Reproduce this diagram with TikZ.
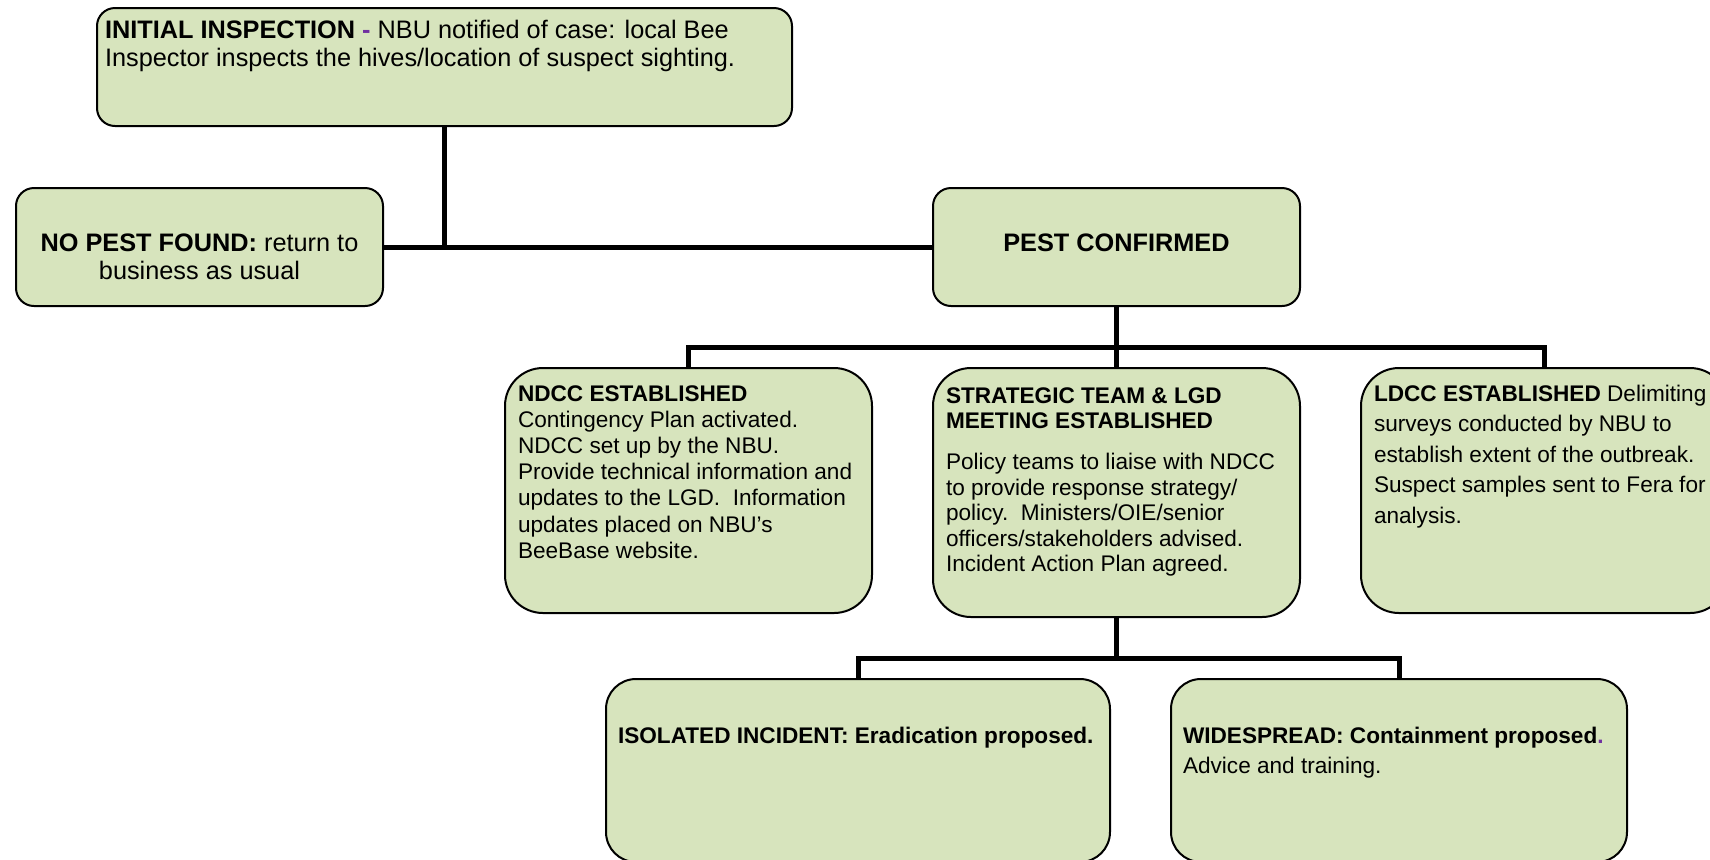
\documentclass[tikz,border=0pt]{standalone}
\usepackage{fontspec}
\setmainfont{Liberation Sans}
\usetikzlibrary{positioning}

\definecolor{stagegreen}{RGB}{215,228,189}
\definecolor{notepurple}{RGB}{112,48,160}

% width, height, space above first line, text
\newcommand{\stagetext}[4]{\parbox[c][#2][t]{#1}{\raggedright\vspace*{#3}\strut#4}}

\tikzset{
	stage/.style={draw=black, line width=1pt, fill=stagegreen, anchor=north west, outer sep=0pt,
		inner ysep=0pt, inner xsep=6.5pt, rounded corners=19pt, leading=13.1pt},
	leading/.style={font=\fontsize{11.3pt}{#1}\selectfont},
	small stage/.style={stage, inner xsep=4pt, rounded corners=9pt, font=\fontsize{12.65pt}{14pt}\selectfont},
	low stage/.style={stage, inner xsep=6pt, rounded corners=15pt},
	link/.style={line width=2.5pt}
}

\begin{document}
\begin{tikzpicture}[x=0.5pt, y=-0.5pt]
	\useasboundingbox (0,0) rectangle (1710,859);
	\clip (0,0) rectangle (1710,859);

	% top row
	\node [small stage] (init) at (97,8) {\stagetext{339.5pt}{59pt}{5.4pt}{\textbf{INITIAL INSPECTION} \textbf{\color{notepurple}-} NBU notified of case: local Bee\\Inspector inspects the hives/location of suspect sighting.}};
	\node [small stage] (nopest) at (16,188) {\stagetext{175.5pt}{59pt}{21.7pt}{\centering\textbf{NO PEST FOUND:} return to\\business as usual}};
	\node [small stage] (pest) at (933,188) {\stagetext{175.5pt}{59pt}{21.7pt}{\centering\textbf{PEST CONFIRMED}}};

	% middle row
	\node [stage] (ndcc) at (505,368) {\stagetext{170.5pt}{122.5pt}{7.35pt}{\textbf{NDCC ESTABLISHED}\\Contingency Plan activated.\\NDCC set up by the NBU.\\Provide~technical~information~and\\updates to the LGD.\ \ Information\\updates placed on NBU’s\\BeeBase website.}};
	\node [stage, leading=12.75pt, right=30.5pt of ndcc.north east, anchor=north west] (strat) {\stagetext{170.5pt}{124.5pt}{8.6pt}{\textbf{STRATEGIC TEAM \& LGD}\\\textbf{MEETING ESTABLISHED}\\[7.95pt]Policy teams to liaise with NDCC\\to provide response strategy/\\policy.\ \ Ministers/OIE/senior\\officers/stakeholders advised.\\Incident Action Plan agreed.}};
	\node [stage, leading=15.3pt, right=30.5pt of strat.north east, anchor=north west] (ldcc) {\stagetext{170.5pt}{122.5pt}{5.8pt}{\textbf{LDCC~ESTABLISHED}~Delimiting\\surveys conducted by NBU to\\establish extent of the outbreak.\\Suspect~samples~sent~to~Fera~for\\analysis.}};

	% bottom row
	\node [low stage] (iso) at (606,679) {\stagetext{240pt}{91.5pt}{22.85pt}{\textbf{ISOLATED~INCIDENT:~Eradication~proposed.}}};
	\node [low stage, leading=15.3pt, right=30.5pt of iso.north east, anchor=north west] (wide) {\stagetext{216pt}{91.5pt}{21.3pt}{\textbf{WIDESPREAD:~Containment~proposed}\textbf{\color{notepurple}.}\\Advice and training.}};

	% connectors
	\draw [link] (init.south) -- (init.south |- nopest.east);
	\draw [link] (nopest.east) -- (pest.west);
	\draw [link] (pest.south) -- (strat.north);
	\draw [link] (ndcc.north) -- ++(0,-21) coordinate (forkA) -| (ldcc.north);
	\draw [link] (iso.north) -- ++(0,-21) coordinate (forkB) -| (wide.north);
	\draw [link] (strat.south) -- (strat.south |- forkB);
\end{tikzpicture}
\end{document}
